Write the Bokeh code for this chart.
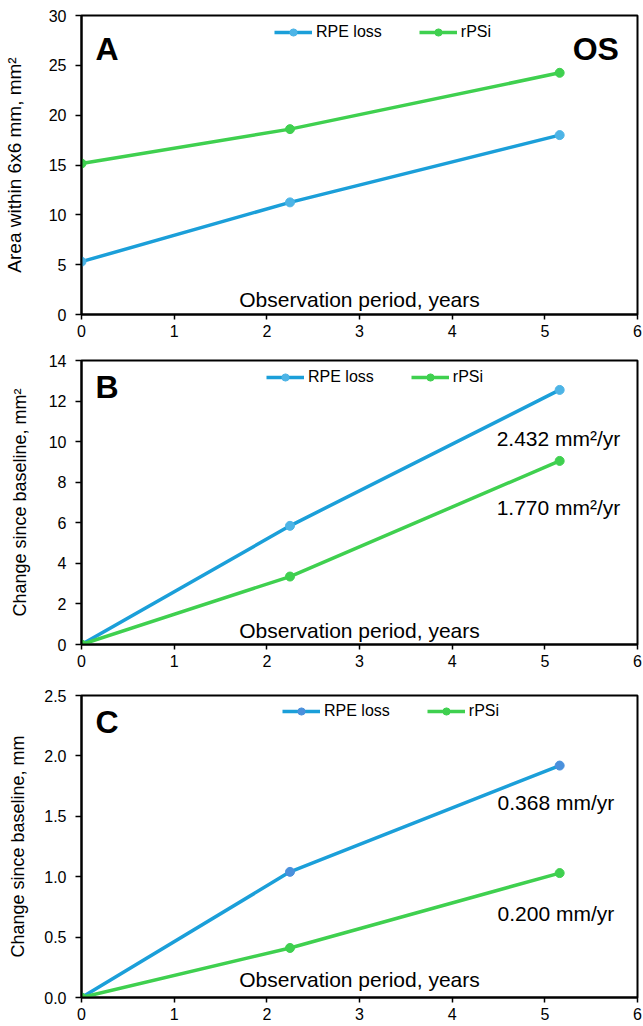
from bokeh.plotting import figure
from bokeh.layouts import column
from bokeh.models import (Range1d, FixedTicker, NumeralTickFormatter, Legend,
                          LegendItem, Label)
from bokeh.embed import file_html
from bokeh.resources import INLINE

# ---- data ----
years = [0, 2.25, 5.16]
a_rpe = [5.3, 11.25, 18.0]
a_rpsi = [15.15, 18.6, 24.25]
b_rpe = [0, 5.85, 12.55]
b_rpsi = [0, 3.35, 9.05]
c_rpe = [0, 1.04, 1.92]
c_rpsi = [0, 0.41, 1.03]

series_names = ["RPE loss", "rPSi"]
x_ticks = [0, 1, 2, 3, 4, 5, 6]
a_ticks = [0, 5, 10, 15, 20, 25, 30]
b_ticks = [0, 2, 4, 6, 8, 10, 12, 14]
c_ticks = [0, 0.5, 1.0, 1.5, 2.0, 2.5]

FONT = "Liberation Sans"
BLUE_LINE = "#1b9fd9"
BLUE_MARK = "#4db4e6"
BLUE_MARK_C = "#4a90dc"
GREEN = "#3fd04f"


def make_panel(h, top, bottom, left, ymax, yticks, ylabel, ylabel_size,
               ystandoff, rpe, rpsi, blue_mark, leg_xy, fmt=None):
    p = figure(width=643, height=h, output_backend="svg", toolbar_location=None,
               x_range=Range1d(0, 6), y_range=Range1d(0, ymax),
               min_border_left=left, min_border_right=6,
               min_border_top=top, min_border_bottom=bottom)
    p.xgrid.visible = False
    p.ygrid.visible = False
    p.outline_line_color = "black"
    p.outline_line_width = 2
    p.background_fill_color = "white"
    p.border_fill_color = "white"
    for ax in (p.xaxis[0], p.yaxis[0]):
        ax.axis_line_color = "black"
        ax.axis_line_width = 2
        ax.major_tick_line_color = "black"
        ax.major_tick_line_width = 1.5
        ax.major_tick_in = 0
        ax.minor_tick_line_color = None
        ax.major_label_text_font = FONT
        ax.major_label_text_font_size = "16px"
        ax.major_label_text_color = "black"
    p.xaxis[0].ticker = FixedTicker(ticks=x_ticks)
    p.xaxis[0].major_tick_out = 5
    p.xaxis[0].major_label_standoff = 5
    p.yaxis[0].ticker = FixedTicker(ticks=yticks)
    p.yaxis[0].major_tick_out = 6
    p.yaxis[0].major_label_standoff = 9
    if fmt:
        p.yaxis[0].formatter = NumeralTickFormatter(format=fmt)
    p.yaxis[0].axis_label = ylabel
    p.yaxis[0].axis_label_text_font = FONT
    p.yaxis[0].axis_label_text_font_size = ylabel_size
    p.yaxis[0].axis_label_text_font_style = "normal"
    p.yaxis[0].axis_label_text_color = "black"
    p.yaxis[0].axis_label_standoff = ystandoff

    l1 = p.line(years, rpe, line_color=BLUE_LINE, line_width=3.5)
    m1 = p.scatter(years, rpe, size=9, fill_color=blue_mark, line_color=blue_mark)
    l2 = p.line(years, rpsi, line_color=GREEN, line_width=3.5)
    m2 = p.scatter(years, rpsi, size=9, fill_color=GREEN, line_color=GREEN)

    legend = Legend(items=[LegendItem(label=series_names[0], renderers=[l1, m1]),
                           LegendItem(label=series_names[1], renderers=[l2, m2])],
                    orientation="horizontal", location=leg_xy,
                    background_fill_alpha=0, border_line_alpha=0,
                    padding=0, margin=0, glyph_width=38, glyph_height=18,
                    label_standoff=4, spacing=37,
                    label_text_font=FONT, label_text_font_size="16px",
                    label_text_color="black")
    p.add_layout(legend)
    return p


def add_label(p, x, y, text, size, bold=False):
    p.add_layout(Label(x=x, y=y, text=text, text_font=FONT,
                       text_font_size=size, text_align="left",
                       text_baseline="middle", text_color="black",
                       text_font_style="bold" if bold else "normal"))


def add_xtitle(p, y):
    p.add_layout(Label(x=3, y=y, text="Observation period, years", text_font=FONT,
                       text_font_size="21px", text_align="center",
                       text_baseline="middle", text_color="black"))


pa = make_panel(340, 15, 26, 79, 30, a_ticks, "Area within 6x6 mm, mm\u00b2", "19px", 21,
                a_rpe, a_rpsi, BLUE_MARK, (193, 273))
add_label(pa, 0.15, 26.6, "A", "32px", bold=True)
add_label(pa, 5.3, 26.6, "OS", "32px", bold=True)
add_xtitle(pa, 1.5)

pb = make_panel(330, 20, 26, 79, 14, b_ticks, "Change since baseline, mm\u00b2", "18px", 16,
                b_rpe, b_rpsi, BLUE_MARK, (185, 258))
add_label(pb, 0.15, 12.67, "B", "32px", bold=True)
add_label(pb, 4.48, 10.15, "2.432 mm\u00b2/yr", "21px")
add_label(pb, 4.48, 6.75, "1.770 mm\u00b2/yr", "21px")
add_xtitle(pb, 0.7)

pc = make_panel(356, 25, 29, 76, 2.5, c_ticks, "Change since baseline, mm", "18px", 13,
                c_rpe, c_rpsi, BLUE_MARK_C, (201, 277), fmt="0.0")
add_label(pc, 0.15, 2.28, "C", "32px", bold=True)
add_label(pc, 4.49, 1.614, "0.368 mm/yr", "21px")
add_label(pc, 4.49, 0.695, "0.200 mm/yr", "21px")
add_xtitle(pc, 0.15)

layout = column(pa, pb, pc, spacing=0)
open("out.html", "w").write(file_html(layout, INLINE))
